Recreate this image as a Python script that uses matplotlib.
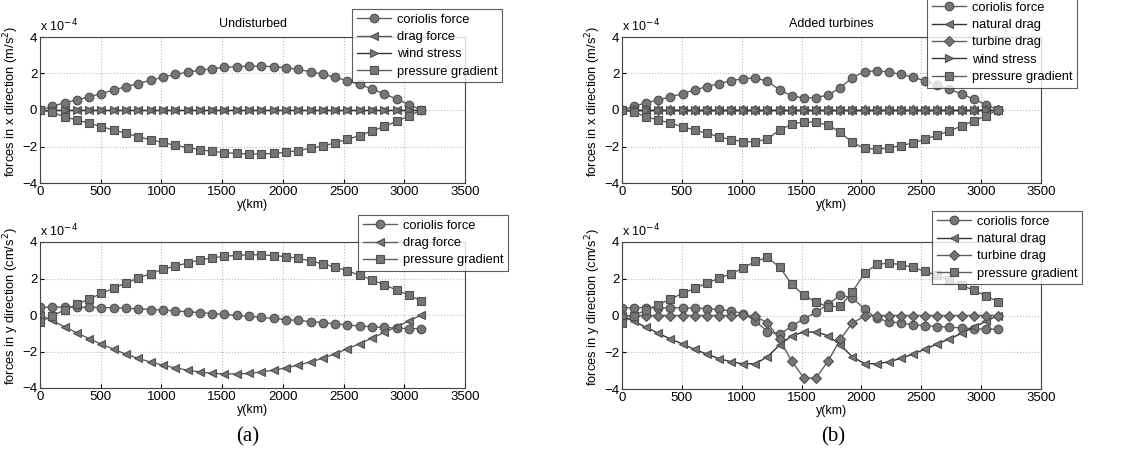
import matplotlib
matplotlib.use("Agg")
import matplotlib.pyplot as plt

plt.rcParams["font.family"] = ["Liberation Sans", "DejaVu Sans"]

# sample positions along the channel (km)
y_km = [0, 101, 203, 304, 405, 506, 608, 709, 810, 912, 1013, 1114, 1215, 1317, 1418, 1519,
        1621, 1722, 1823, 1924, 2026, 2127, 2228, 2330, 2431, 2532, 2633, 2735, 2836, 2937,
        3039, 3140]

# (a) undisturbed, x-direction (x 1e-4 m/s^2)
a_x_coriolis = [0.0, 0.2, 0.4, 0.55, 0.72, 0.9, 1.1, 1.28, 1.45, 1.63, 1.8, 1.95, 2.07, 2.17,
                2.27, 2.33, 2.38, 2.4, 2.4, 2.37, 2.32, 2.22, 2.1, 1.95, 1.8, 1.6, 1.4, 1.15,
                0.88, 0.6, 0.3, 0.0]
a_x_drag = [0.0] * 32
a_x_wind = [0.0] * 32
a_x_pressure = [0.0, -0.12, -0.38, -0.55, -0.72, -0.92, -1.1, -1.28, -1.47, -1.63, -1.78,
                -1.94, -2.06, -2.17, -2.27, -2.33, -2.38, -2.42, -2.41, -2.38, -2.32, -2.22,
                -2.1, -1.97, -1.8, -1.6, -1.4, -1.15, -0.9, -0.62, -0.33, 0.0]

# (a) undisturbed, y-direction (x 1e-4 cm/s^2)
a_y_coriolis = [0.42, 0.43, 0.43, 0.42, 0.42, 0.41, 0.4, 0.37, 0.34, 0.3, 0.27, 0.22, 0.18,
                0.13, 0.08, 0.03, -0.02, -0.08, -0.13, -0.19, -0.25, -0.3, -0.36, -0.42,
                -0.48, -0.55, -0.6, -0.65, -0.68, -0.72, -0.74, -0.75]
a_y_drag = [0.0, -0.3, -0.65, -0.98, -1.3, -1.6, -1.88, -2.15, -2.38, -2.58, -2.75, -2.9,
            -3.02, -3.12, -3.2, -3.23, -3.23, -3.2, -3.12, -3.02, -2.9, -2.75, -2.57, -2.37,
            -2.12, -1.85, -1.57, -1.27, -0.95, -0.65, -0.32, 0.0]
a_y_pressure = [-0.4, -0.05, 0.28, 0.58, 0.88, 1.18, 1.48, 1.75, 2.03, 2.27, 2.5, 2.68, 2.85,
                3.02, 3.12, 3.22, 3.27, 3.3, 3.3, 3.25, 3.2, 3.1, 2.97, 2.8, 2.62, 2.42, 2.18,
                1.93, 1.65, 1.37, 1.08, 0.77]

# (b) added turbines, x-direction
b_x_coriolis = [0.0, 0.2, 0.4, 0.55, 0.72, 0.9, 1.1, 1.28, 1.45, 1.6, 1.72, 1.75, 1.58, 1.1,
                0.78, 0.65, 0.68, 0.82, 1.22, 1.78, 2.1, 2.15, 2.08, 1.95, 1.8, 1.6, 1.38,
                1.15, 0.88, 0.6, 0.3, 0.0]
b_x_natural = [0.0] * 32
b_x_turbine = [0.0] * 32
b_x_wind = [0.0] * 32
b_x_pressure = [0.0, -0.12, -0.38, -0.55, -0.72, -0.92, -1.1, -1.28, -1.47, -1.62, -1.73,
                -1.75, -1.58, -1.1, -0.78, -0.65, -0.68, -0.82, -1.22, -1.78, -2.1, -2.15,
                -2.08, -1.95, -1.8, -1.6, -1.38, -1.15, -0.88, -0.6, -0.33, 0.0]

# (b) added turbines, y-direction
b_y_coriolis = [0.42, 0.43, 0.43, 0.42, 0.42, 0.42, 0.4, 0.37, 0.33, 0.25, 0.1, -0.3, -0.88,
                -1.03, -0.58, -0.18, 0.17, 0.62, 1.1, 0.97, 0.35, -0.15, -0.33, -0.42, -0.5,
                -0.55, -0.6, -0.63, -0.68, -0.72, -0.74, -0.75]
b_y_natural = [0.0, -0.32, -0.65, -0.97, -1.28, -1.55, -1.85, -2.1, -2.35, -2.52, -2.63,
               -2.62, -2.25, -1.6, -1.1, -0.9, -0.9, -1.1, -1.6, -2.25, -2.62, -2.63, -2.52,
               -2.33, -2.1, -1.83, -1.55, -1.28, -0.97, -0.65, -0.32, 0.0]
b_y_turbine = [0.0, 0.0, 0.0, 0.0, 0.0, 0.0, 0.0, 0.0, 0.0, 0.0, 0.03, -0.05, -0.4, -1.3,
               -2.48, -3.4, -3.4, -2.48, -1.3, -0.4, -0.05, 0.0, 0.0, 0.0, 0.0, 0.0, 0.0,
               0.0, 0.0, 0.0, 0.0, 0.0]
b_y_pressure = [-0.4, 0.0, 0.3, 0.58, 0.9, 1.2, 1.48, 1.76, 2.03, 2.27, 2.58, 2.95, 3.16,
                2.63, 1.7, 1.1, 0.73, 0.47, 0.5, 1.28, 2.3, 2.78, 2.85, 2.77, 2.62, 2.4, 2.18,
                1.93, 1.65, 1.37, 1.08, 0.75]

LINE = "#5f5f5f"
FILL = "#767676"
EDGE = "#505050"
MS = 6.2

STYLE = {
    "coriolis force": dict(marker="o"),
    "drag force": dict(marker="<"),
    "natural drag": dict(marker="<", color="#333333"),
    "turbine drag": dict(marker="D", markersize=MS - 1.2),
    "wind stress": dict(marker=">", color="#333333"),
    "pressure gradient": dict(marker="s", markersize=MS - 0.4),
}


def draw(ax, series, ylabel, title=None):
    for name, vals in series:
        kw = dict(color=LINE, markersize=MS, markerfacecolor=FILL,
                  markeredgecolor=EDGE, markeredgewidth=0.8, linewidth=1.0)
        kw.update(STYLE[name])
        ax.plot(y_km, vals, label=name, **kw)
    ax.set_xlim(0, 3500)
    ax.set_ylim(-4, 4)
    ax.set_xticks(range(0, 3501, 500))
    ax.set_yticks([-4, -2, 0, 2, 4])
    ax.grid(True, color="#bdbdbd", linestyle=":", linewidth=0.8)
    ax.tick_params(labelsize=9.5, length=3, direction="in", pad=2)
    for s in ax.spines.values():
        s.set_color("#444444")
        s.set_linewidth(0.8)
    ax.set_xlabel("y(km)", fontsize=9, labelpad=1)
    ax.set_ylabel(ylabel, fontsize=9.3)
    # right edge of the rotated label sits ~19 px left of the axes
    ax.yaxis.set_label_coords(-19 / 420, 0.56)
    ax.text(0.0, 1.02, r"x 10$^{-4}$", transform=ax.transAxes, fontsize=9,
            ha="left", va="bottom")
    if title:
        ax.set_title(title, fontsize=9, pad=7)


fig = plt.figure(figsize=(11.29, 4.57), dpi=100)
W, H = 1129, 457


def add_axes(x0, y_top, x1, y_bot):
    return fig.add_axes([x0 / W, 1 - y_bot / H, (x1 - x0) / W, (y_bot - y_top) / H])


ax_a1 = add_axes(40, 37, 465, 183)
ax_a2 = add_axes(40, 242, 465, 388)
ax_b1 = add_axes(622, 37, 1041, 183)
ax_b2 = add_axes(622, 242, 1041, 389)

draw(ax_a1, [("coriolis force", a_x_coriolis), ("drag force", a_x_drag),
             ("wind stress", a_x_wind), ("pressure gradient", a_x_pressure)],
     r"forces in x direction (m/s$^2$)", "Undisturbed")
draw(ax_a2, [("coriolis force", a_y_coriolis), ("drag force", a_y_drag),
             ("pressure gradient", a_y_pressure)],
     r"forces in y direction (cm/s$^2$)")
draw(ax_b1, [("coriolis force", b_x_coriolis), ("natural drag", b_x_natural),
             ("turbine drag", b_x_turbine), ("wind stress", b_x_wind),
             ("pressure gradient", b_x_pressure)],
     r"forces in x direction (m/s$^2$)", "Added turbines")
draw(ax_b2, [("coriolis force", b_y_coriolis), ("natural drag", b_y_natural),
             ("turbine drag", b_y_turbine), ("pressure gradient", b_y_pressure)],
     r"forces in y direction (cm/s$^2$)")


def legend(ax, x_right, y_top):
    leg = ax.legend(loc="upper right", bbox_to_anchor=(x_right / W, 1 - y_top / H),
                    bbox_transform=fig.transFigure, fontsize=9.3, frameon=True,
                    fancybox=False, borderpad=0.35, labelspacing=0.42,
                    handlelength=2.6, handletextpad=0.5, borderaxespad=0)
    leg.get_frame().set_edgecolor("#333333")
    leg.get_frame().set_linewidth(0.8)
    leg.set_zorder(10)


legend(ax_a1, 502, 9)
legend(ax_a2, 508, 215)
legend(ax_b1, 1077, -3)
legend(ax_b2, 1082, 211)

fig.text(248 / W, 1 - 437 / H, "(a)", fontsize=15, family="Liberation Serif",
         ha="center", va="center")
fig.text(833 / W, 1 - 437 / H, "(b)", fontsize=15, family="Liberation Serif",
         ha="center", va="center")

fig.savefig("out.png", dpi=100)
